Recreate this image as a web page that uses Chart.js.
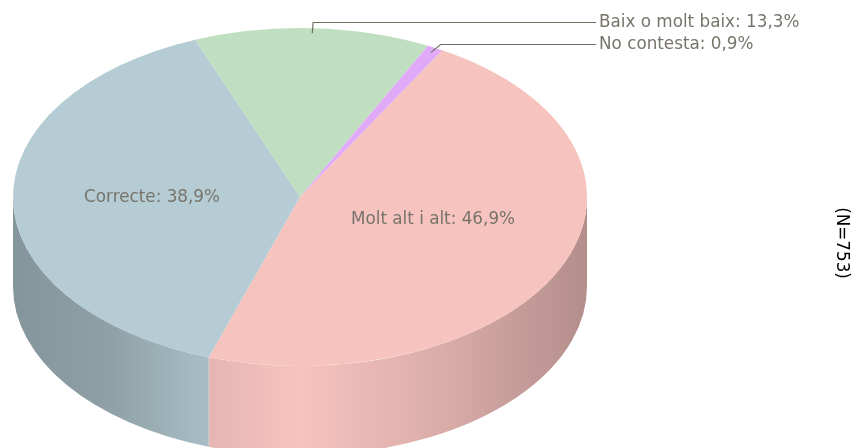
<!DOCTYPE html>
<html><head><meta charset="utf-8">
<style>html,body{margin:0;padding:0;background:#fff;overflow:hidden}#w{position:relative;width:853px;height:448px}</style>
<script src="https://cdn.jsdelivr.net/npm/chart.js@4"></script>
</head><body><div id="w"><canvas id="c" width="853" height="448"></canvas></div>
<script>
const categories = ['Molt alt i alt', 'Correcte', 'Baix o molt baix', 'No contesta'];
const values = [46.9, 38.9, 13.3, 0.9];
const valueLabels = ['46,9%', '38,9%', '13,3%', '0,9%'];
const colors = ['#f7c3bf', '#b5ccd4', '#c0dfc0', '#e0aaf8'];
const note = '(N=753)';

const XSCALE = 287 / 169, DEPTH = 89.5, FONT = '16.8px "DejaVu Sans", Verdana, sans-serif';
const TEXT = '#77746b', LINE = '#6f6f62';

function shade(hex, f) {
  const n = parseInt(hex.slice(1), 16);
  return `rgb(${Math.round((n >> 16) * f)},${Math.round(((n >> 8) & 255) * f)},${Math.round((n & 255) * f)})`;
}
const threeD = {
  id: 'threeD',
  beforeDatasetsDraw(chart) {
    const ctx = chart.ctx, arcs = chart.getDatasetMeta(0).data;
    const cx = arcs[0].x, cy = arcs[0].y, ry = arcs[0].outerRadius, rx = ry * XSCALE;
    const TAU = Math.PI * 2;
    arcs.forEach((a, i) => {
      let s = a.startAngle, e = a.endAngle;
      while (s > Math.PI) { s -= TAU; e -= TAU; }
      while (s < -Math.PI) { s += TAU; e += TAU; }
      const a0 = Math.max(s, 0), a1 = Math.min(e, Math.PI);
      if (a1 <= a0) return;
      const g = ctx.createLinearGradient(cx - rx, 0, cx + rx, 0);
      [[0, .73], [.17, .79], [.34, .93], [.5, 1], [.75, .88], [1, .73]]
        .forEach(([p, f]) => g.addColorStop(p, shade(colors[i], f)));
      ctx.beginPath();
      ctx.ellipse(cx, cy, rx, ry, 0, a0, a1);
      ctx.ellipse(cx, cy + DEPTH, rx, ry, 0, a1, a0, true);
      ctx.closePath();
      ctx.fillStyle = g;
      ctx.fill();
      if (a1 < Math.PI) {
        const x = cx + Math.cos(a1) * rx, y = cy + Math.sin(a1) * ry;
        ctx.beginPath(); ctx.moveTo(x, y); ctx.lineTo(x, y + DEPTH);
        ctx.strokeStyle = 'rgba(255,255,255,.35)'; ctx.lineWidth = 1; ctx.stroke();
      }
    });
    ctx.save();
    ctx.translate(cx, 0); ctx.scale(XSCALE, 1); ctx.translate(-cx, 0);
  },
  afterDatasetsDraw(chart) {
    const ctx = chart.ctx, arcs = chart.getDatasetMeta(0).data;
    ctx.restore();
    const cx = arcs[0].x, cy = arcs[0].y, ry = arcs[0].outerRadius, rx = ry * XSCALE;
    ctx.save();
    ctx.font = FONT; ctx.fillStyle = TEXT; ctx.textBaseline = 'middle';
    const text = i => `${categories[i]}: ${valueLabels[i]}`;
    ctx.textAlign = 'center';
    ctx.fillText(text(0), 433, 220);
    ctx.fillText(text(1), 152, 198);
    ctx.textAlign = 'left';
    [[2, 22], [3, 44]].forEach(([i, ly]) => {
      const m = (arcs[i].startAngle + arcs[i].endAngle) / 2;
      const ax = cx + Math.cos(m) * rx * .97, ay = cy + Math.sin(m) * ry * .97;
      const kx = cx + Math.cos(m) * rx * 1.04;
      ctx.beginPath();
      ctx.moveTo(ax, ay); ctx.lineTo(kx, ly + .5); ctx.lineTo(596, ly + .5);
      ctx.strokeStyle = LINE; ctx.lineWidth = 1.2; ctx.stroke();
      ctx.fillText(text(i), 599, ly + 1);
    });
    ctx.translate(841, 243);
    ctx.rotate(Math.PI / 2);
    ctx.textAlign = 'center';
    ctx.fillStyle = '#000';
    ctx.fillText(note, 0, 0);
    ctx.restore();
  }
};
new Chart(document.getElementById('c'), {
  type: 'pie',
  data: { labels: categories, datasets: [{ data: values, backgroundColor: colors, borderWidth: 0 }] },
  options: {
    responsive: false, animation: false, rotation: 29.7,
    layout: { padding: { left: 131, right: 384, top: 28, bottom: 82 } },
    plugins: { legend: { display: false }, tooltip: { enabled: false } }
  },
  plugins: [threeD]
});
</script></body></html>
